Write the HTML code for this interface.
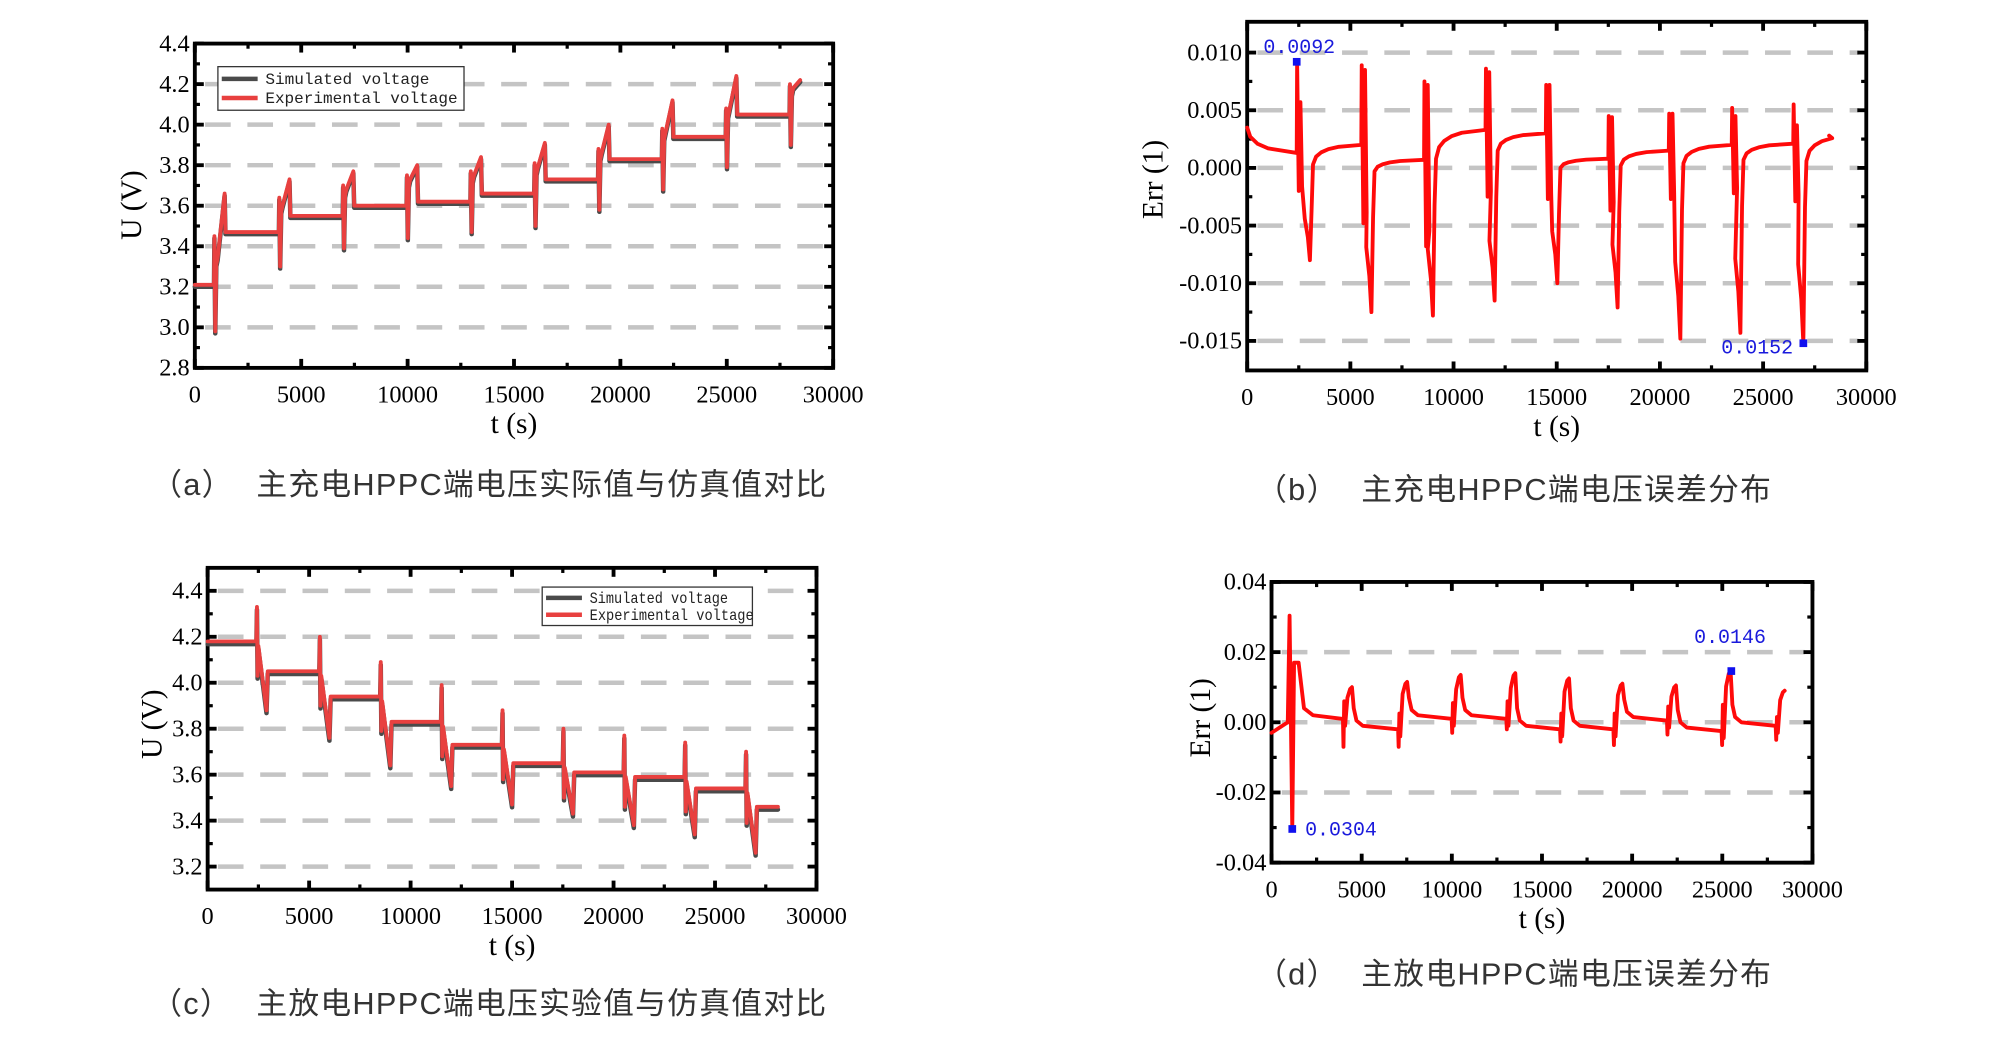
<!DOCTYPE html>
<html><head><meta charset="utf-8"><style>
html,body{margin:0;padding:0;background:#fff;}
svg{display:block;}
.tk{font-family:"Liberation Serif",serif;font-size:19px;fill:#000;}
.ttl{font-family:"Liberation Serif",serif;font-size:23px;fill:#000;}
.cap{font-family:"Liberation Sans","Noto Sans CJK SC",sans-serif;font-size:24px;fill:#333;letter-spacing:1px;}
.lg{font-family:"Liberation Mono",monospace;font-size:12px;fill:#222;}
.ann{font-family:"Liberation Mono",monospace;font-size:16px;fill:#1a1adc;}
</style></head><body>
<svg id="fig" width="2006" height="1063" viewBox="0 0 1565 829.3" preserveAspectRatio="none" xmlns="http://www.w3.org/2000/svg"></svg>
<script>
// ---- chart (a) charge voltage data ----
const aStarts=[900,3950,6950,9950,12950,15950,18950,21950,24950,27950];
const aLevels=[3.21,3.47,3.55,3.60,3.62,3.66,3.73,3.83,3.94,4.05];
const aSpikes=[3.45,3.64,3.70,3.75,3.77,3.81,3.88,3.98,4.08,4.20];
const aDips=[2.98,3.30,3.39,3.44,3.47,3.50,3.58,3.68,3.79,3.90];
const aPeaks=[3.66,3.73,3.77,3.80,3.84,3.91,4.00,4.12,4.24,4.22];
const aSimOffset=[0.01];
const aYTicks=[2.8,3.0,3.2,3.4,3.6,3.8,4.0,4.2,4.4];
// ---- chart (b) charge error data ----
const bStarts=[2400,5530,8570,11550,14470,17500,20430,23480,26460];
const bDipTimes=[3040,6020,9000,11990,15030,17950,20990,23900,26950];
const bSpikeA=[0.0092,0.0089,0.0075,0.0086,0.0072,0.0045,0.0047,0.0052,0.0055];
const bSpikeB=[0.0057,0.0085,0.0072,0.0083,0.0072,0.0044,0.0047,0.0045,0.0037];
const bLowA=[-0.002,-0.0048,-0.0068,-0.0025,-0.0027,-0.0037,-0.0027,-0.0022,-0.0029];
const bDipMin=[-0.008,-0.0125,-0.0128,-0.0115,-0.0100,-0.0121,-0.0148,-0.0143,-0.0152];
const bRecov=[0.0003,-0.0003,0.0008,0.0015,0.0000,0.0002,0.0004,0.0007,0.0006];
const bPlateau=[0.0020,0.0007,0.0033,0.0030,0.0008,0.0015,0.0020,0.0021,0.0028];
const bInit=[0.0035,0.0013];
const bYTicks=[-0.015,-0.010,-0.005,0.000,0.005,0.010];
const bYLabels=["-0.015","-0.010","-0.005","0.000","0.005","0.010"];
// ---- chart (c) discharge voltage data ----
const cStarts=[2400,5500,8500,11500,14500,17500,20500,23500,26500];
const cLevels=[4.18,4.05,3.94,3.83,3.73,3.65,3.61,3.59,3.54,3.46];
const cSpikes=[4.33,4.20,4.09,3.99,3.88,3.80,3.77,3.74,3.70];
const cDips=[3.88,3.76,3.64,3.55,3.47,3.43,3.38,3.34,3.26];
const cYTicks=[3.2,3.4,3.6,3.8,4.0,4.2,4.4];
// ---- chart (d) discharge error data ----
const dStarts=[3960,7020,9990,13020,16000,18960,21930,24960,27960];
const dDips=[-0.007,-0.007,-0.003,-0.002,-0.0055,-0.0065,-0.0035,-0.0065,-0.005];
const dSpikes=[0.006,0.0025,0.0055,0.006,0.0025,0.0025,0.0045,0.005,0.0015];
const dPeaks=[0.010,0.0115,0.0135,0.014,0.0125,0.011,0.0105,0.0146,0.009];
const dPlateau=[-0.002,0.001,0.001,-0.002,-0.002,0.0005,-0.0025,-0.001,-0.001];
const dInit=[-0.003,0.0,0.0304,-0.0304,0.017,0.017,0.004,0.002,0.001];
const dInitT=[0,900,1000,1150,1250,1500,1800,2300,3900];
const dYTicks=[-0.04,-0.02,0.00,0.02,0.04];
const dYLabels=["-0.04","-0.02","0.00","0.02","0.04"];
const xTicks=[0,5000,10000,15000,20000,25000,30000];

const NS="http://www.w3.org/2000/svg";
const svg=document.getElementById('fig');
function mk(tag,attrs,parent,text){const e=document.createElementNS(NS,tag);for(const k in attrs)e.setAttribute(k,attrs[k]);if(text!==undefined)e.textContent=text;(parent||svg).appendChild(e);return e;}

function axes(cfg){
  const g=mk('g',{});
  
  
  const X=v=>cfg.x0+(v-0)/(30000)*(cfg.x1-cfg.x0);
  const Y=v=>cfg.y1-(v-cfg.ymin)/(cfg.ymax-cfg.ymin)*(cfg.y1-cfg.y0);
  cfg.grid.forEach(v=>{const l=mk('line',{x1:cfg.x0+8,x2:cfg.x1-6,y1:Y(v),y2:Y(v),stroke:'#c4c4c4','stroke-width':3.5,'stroke-dasharray':'20 13'},g);
    
    });
  xTicks.forEach((v,i)=>{const x=X(v);
    mk('line',{x1:x,x2:x,y1:cfg.y1,y2:cfg.y1-7,stroke:'#000','stroke-width':3},g);
    mk('line',{x1:x,x2:x,y1:cfg.y0,y2:cfg.y0+7,stroke:'#000','stroke-width':3},g);
    if(i<xTicks.length-1){const xm=X(v+2500);
      mk('line',{x1:xm,x2:xm,y1:cfg.y1,y2:cfg.y1-4,stroke:'#000','stroke-width':2.5},g);
      mk('line',{x1:xm,x2:xm,y1:cfg.y0,y2:cfg.y0+4,stroke:'#000','stroke-width':2.5},g);}
    const t=mk('text',{x:x,y:cfg.y1+27,'text-anchor':'middle',class:'tk'},g,String(v));
    
    
  });
  cfg.yt.forEach((v,i)=>{const y=Y(v);
    mk('line',{x1:cfg.x0,x2:cfg.x0+7,y1:y,y2:y,stroke:'#000','stroke-width':3},g);
    mk('line',{x1:cfg.x1,x2:cfg.x1-7,y1:y,y2:y,stroke:'#000','stroke-width':3},g);
    if(i<cfg.yt.length-1){const ym=Y((v+cfg.yt[i+1])/2);
      mk('line',{x1:cfg.x0,x2:cfg.x0+4,y1:ym,y2:ym,stroke:'#000','stroke-width':2.5},g);
      mk('line',{x1:cfg.x1,x2:cfg.x1-4,y1:ym,y2:ym,stroke:'#000','stroke-width':2.5},g);}
    const t=mk('text',{x:cfg.x0-4,y:y+6,'text-anchor':'end',class:'tk'},g,cfg.yl?cfg.yl[i]:v.toFixed(1));
    
    
  });
  const fr=mk('rect',{x:cfg.x0,y:cfg.y0,width:cfg.x1-cfg.x0,height:cfg.y1-cfg.y0,fill:'none',stroke:'#000','stroke-width':3},g);
  
  
  const xt=mk('text',{x:(cfg.x0+cfg.x1)/2,y:cfg.y1+51,'text-anchor':'middle',class:'ttl'},g,'t (s)');
  
  
  const yt=mk('text',{x:0,y:0,'text-anchor':'middle',class:'ttl','font-size':cfg.ytfs||23,'font-weight':cfg.ytbold?'bold':'normal',transform:`translate(${cfg.ytx},${cfg.yty}) rotate(-90)`},g,cfg.ytitle);
  
  
  const cl=mk('text',{x:cfg.capx-82,y:cfg.capy,class:'cap'},g,cfg.capLabel);
  
  
  const cp=mk('text',{x:cfg.capx,y:cfg.capy,class:'cap'},g,cfg.cap);
  
  
  return {g,X,Y};
}
function line(ax,pts,color,w,name){
  const d=pts.map((p,i)=>(i?'L':'M')+ax.X(p[0]).toFixed(2)+' '+ax.Y(p[1]).toFixed(2)).join(' ');
  const p=mk('path',{d:d,fill:'none',stroke:color,'stroke-width':w,'stroke-linejoin':'round','stroke-linecap':'round'},ax.g);
  
  
}
function legend(ax,x,y,w,h,fs,tl1,tl2){
  const g=mk('g',{},ax.g);
  
  
  mk('rect',{x:x,y:y,width:w,height:h,fill:'#fff',stroke:'#333','stroke-width':1},g);
  mk('line',{x1:x+3,x2:x+31,y1:y+h*0.28,y2:y+h*0.28,stroke:'#4a4a4a','stroke-width':3.5},g);
  mk('line',{x1:x+3,x2:x+31,y1:y+h*0.72,y2:y+h*0.72,stroke:'#e8403f','stroke-width':3.5},g);
  const t1=mk('text',{x:x+37,y:y+h*0.28+4,class:'lg','font-size':fs,textLength:tl1,lengthAdjust:'spacingAndGlyphs'},g,'Simulated voltage');
  
  
  const t2=mk('text',{x:x+37,y:y+h*0.72+4,class:'lg','font-size':fs,textLength:tl2,lengthAdjust:'spacingAndGlyphs'},g,'Experimental voltage');
  
  
}
function marker(ax,t,v,lx,ly,txt){
  const r=mk('rect',{x:ax.X(t)-3,y:ax.Y(v)-3,width:6,height:6,fill:'#1010ee'},ax.g);
  
  
  const l=mk('text',{x:ax.X(t)+lx,y:ax.Y(v)+ly,class:'ann',textLength:56,lengthAdjust:'spacingAndGlyphs'},ax.g,txt);
  
  
}

// (a)
const A=axes({name:'chart-a',x0:152,x1:650,y0:34,y1:287,ymin:2.8,ymax:4.4,grid:[3.0,3.2,3.4,3.6,3.8,4.0,4.2],yt:aYTicks,
  ytitle:'U (V)',ytx:110,yty:160,capLabel:'（a）',cap:'主充电HPPC端电压实际值与仿真值对比',capx:200,capy:386});
function aSeries(off){const pts=[[0,aLevels[0]-off]];
  aStarts.forEach((t0,i)=>{const L0=aLevels[i]-off;
    pts.push([t0,L0],[t0+20,aSpikes[i]-off],[t0+60,aDips[i]-off],[t0+110,L0+0.1],[t0+170,L0+0.13],[t0+500,aPeaks[i]-off]);
    if(i<aStarts.length-1)pts.push([t0+540,aLevels[i+1]-off]);});
  return pts;}
line(A,aSeries(aSimOffset[0]),'#4a4a4a',3.5,'simulated-voltage-line');
line(A,aSeries(0),'#e8403f',3,'experimental-voltage-line');
legend(A,170,52,192,34,13,128,150);

// (b)
const B=axes({name:'chart-b',x0:973,x1:1456,y0:17,y1:289,ymin:-0.01756,ymax:0.01267,grid:[-0.015,-0.010,-0.005,0,0.005,0.010],yt:bYTicks,yl:bYLabels,
  ytitle:'Err (1)',ytfs:25,ytbold:false,ytx:907,yty:140,capLabel:'（b）',cap:'主充电HPPC端电压误差分布',capx:1062,capy:390});
(function(){const pts=[[0,bInit[0]],[150,0.0027],[500,0.0021],[1000,0.0017],[bStarts[0],bInit[1]]];
  bStarts.forEach((t0,i)=>{const dt=bDipTimes[i];
    const tn=i<bStarts.length-1?bStarts[i+1]:28200;
    const P=bPlateau[i],R=bRecov[i];
    pts.push([t0+20,bSpikeA[i]],[t0+100,bLowA[i]],[t0+180,bSpikeB[i]],[t0+260,bLowA[i]*0.8],[dt-250,bDipMin[i]*0.55],[dt-100,bDipMin[i]*0.75],[dt,bDipMin[i]],
      [dt+80,R-0.004],[dt+150,R],[dt+300,R+0.4*(P-R)],[dt+550,R+0.62*(P-R)],[dt+900,R+0.78*(P-R)],[dt+1400,R+0.9*(P-R)],[tn,P]);});
  line(B,pts,'#ff0a0a',3,'error-line');})();
marker(B,2400,0.0092,-26,-7,'0.0092');
marker(B,26950,-0.0152,-64,8,'0.0152');

// (c)
const C=axes({name:'chart-c',x0:162,x1:637,y0:443,y1:694,ymin:3.1,ymax:4.5,grid:[3.2,3.4,3.6,3.8,4.0,4.2,4.4],yt:cYTicks,
  ytitle:'U (V)',ytx:126,yty:565,capLabel:'（c）',cap:'主放电HPPC端电压实验值与仿真值对比',capx:200,capy:791});
function cSeries(off){const pts=[[0,cLevels[0]-off]];
  cStarts.forEach((t0,i)=>{const L0=cLevels[i]-off;
    pts.push([t0,L0],[t0+30,cSpikes[i]-off],[t0+60,L0-0.15],[t0+100,L0-0.02],[t0+500,cDips[i]-off],[t0+560,cLevels[i+1]-off]);});
  pts.push([28100,cLevels[cLevels.length-1]-off]);return pts;}
line(C,cSeries(0.012),'#4a4a4a',3.5,'simulated-voltage-line');
line(C,cSeries(0),'#e8403f',3,'experimental-voltage-line');
legend(C,423,458,164,30,11,108,128);

// (d)
const D=axes({name:'chart-d',x0:992,x1:1414,y0:454,y1:673,ymin:-0.04,ymax:0.04,grid:[-0.02,0,0.02],yt:dYTicks,yl:dYLabels,
  ytitle:'Err (1)',ytfs:24,ytx:944,yty:560,capLabel:'（d）',cap:'主放电HPPC端电压误差分布',capx:1062,capy:768});
(function(){const pts=dInitT.map((t,i)=>[t,dInit[i]]);let prev=dInit[dInit.length-1];
  dStarts.forEach((t0,i)=>{
    pts.push([t0,prev],[t0+30,dDips[i]],[t0+70,dSpikes[i]],[t0+120,prev-0.002],[t0+250,dPeaks[i]*0.7],[t0+400,dPeaks[i]*0.95],[t0+500,dPeaks[i]]);
    if(i<dStarts.length-1){pts.push([t0+600,dPlateau[i]+0.006],[t0+750,dPlateau[i]+0.0025],[t0+1100,dPlateau[i]+0.001],[dStarts[i+1]-20,dPlateau[i]]);prev=dPlateau[i];}});
  line(D,pts,'#ff0a0a',3,'error-line');})();
marker(D,25500,0.0146,-29,-22,'0.0146');
marker(D,1150,-0.0304,10,5,'0.0304');
</script>
</body></html>
